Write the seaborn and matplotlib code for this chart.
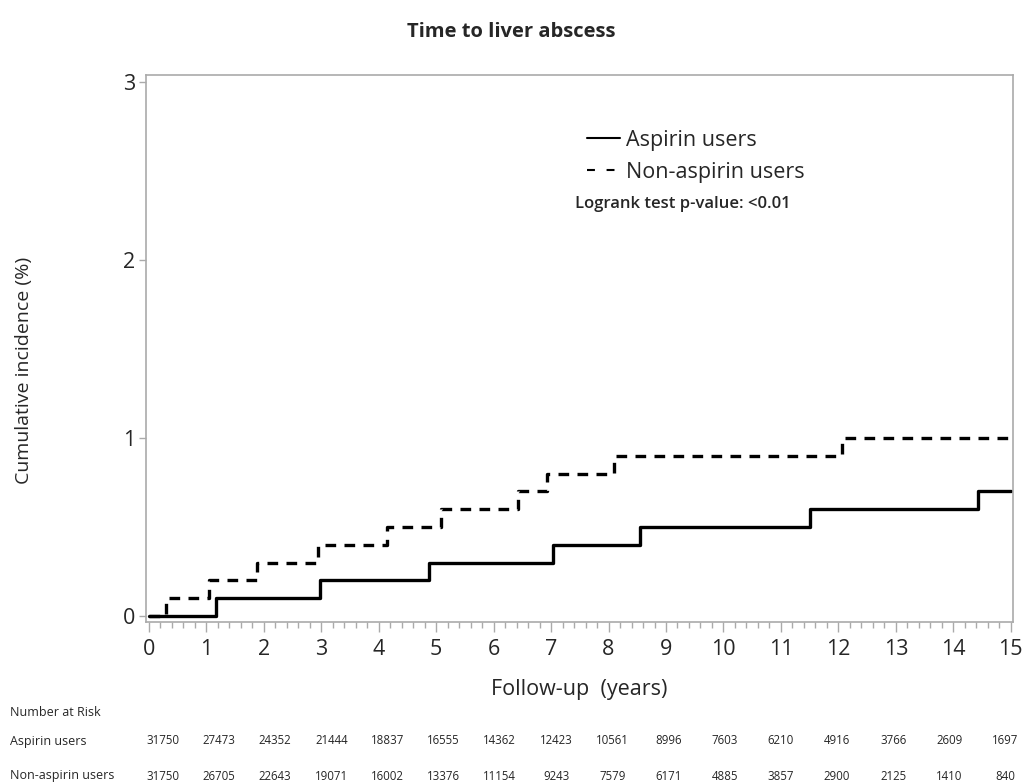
import numpy as np
import pandas as pd
import seaborn as sns
import matplotlib.pyplot as plt
from matplotlib.lines import Line2D
from matplotlib.ticker import MultipleLocator

# step data (years, cumulative incidence %)
asp_times = [0, 1.17, 2.97, 4.88, 7.03, 8.54, 11.5, 14.43, 15]
asp_cum = [0, 0.1, 0.2, 0.3, 0.4, 0.5, 0.6, 0.7, 0.7]
non_times = [0, 0.3, 1.04, 1.88, 2.94, 4.14, 5.09, 6.42, 6.93, 8.1, 12.07, 15]
non_cum = [0, 0.1, 0.2, 0.3, 0.4, 0.5, 0.6, 0.7, 0.8, 0.9, 1.0, 1.0]

groups = ['Aspirin users', 'Non-aspirin users']
risk_years = list(range(16))
risk_asp = [31750, 27473, 24352, 21444, 18837, 16555, 14362, 12423, 10561,
            8996, 7603, 6210, 4916, 3766, 2609, 1697]
risk_non = [31750, 26705, 22643, 19071, 16002, 13376, 11154, 9243, 7579,
            6171, 4885, 3857, 2900, 2125, 1410, 840]

sns.set_style('white')
plt.rcParams['font.family'] = ['Open Sans', 'DejaVu Sans']

df = pd.concat([
    pd.DataFrame({'time': asp_times, 'cum': asp_cum, 'group': groups[0]}),
    pd.DataFrame({'time': non_times, 'cum': non_cum, 'group': groups[1]}),
])

fig = plt.figure(figsize=(10.22, 7.82), dpi=100)
ax = fig.add_axes([0.1429, 0.2046, 0.9912 - 0.1429, 0.9041 - 0.2046])

dash = (3.2, 2.5)
sns.lineplot(data=df, x='time', y='cum', style='group', style_order=groups,
             dashes={groups[0]: '', groups[1]: dash}, color='black',
             linewidth=2.4, drawstyle='steps-post', estimator=None,
             legend=False, ax=ax)

ax.set_xlim(-0.05, 15.04)
ax.set_ylim(-0.034, 3.04)
ax.xaxis.set_major_locator(MultipleLocator(1))
ax.xaxis.set_minor_locator(MultipleLocator(0.2))
ax.yaxis.set_major_locator(MultipleLocator(1))
ax.tick_params(axis='x', which='major', direction='out', length=7, width=1,
               color='#aaaaaa', labelsize=15.5, pad=5, bottom=True)
ax.tick_params(axis='x', which='minor', direction='out', length=4, width=1,
               color='#aaaaaa', bottom=True)
ax.tick_params(axis='y', which='major', direction='out', length=5, width=1,
               color='#aaaaaa', labelsize=15.5, pad=3, left=True)
for s in ax.spines.values():
    s.set_color('#aaaaaa')
    s.set_linewidth(1.2)

ax.set_xlabel('Follow-up  (years)', fontsize=15.5, labelpad=14)
ax.set_ylabel('Cumulative incidence (%)', fontsize=14)
ax.yaxis.set_label_coords(-0.13, 0.46)
fig.suptitle('Time to liver abscess', fontsize=14.5, fontweight='bold',
             x=0.5, y=1 - 32 / 782, va='center')

handles = [Line2D([], [], color='black', linewidth=1.5),
           Line2D([], [], color='black', linewidth=1.5, dashes=(3.8, 5.6))]
leg = ax.legend(handles, groups, loc='upper left', bbox_to_anchor=(0.486, 0.935),
                frameon=False, fontsize=15.5, handlelength=1.53, handletextpad=0.28,
                labelspacing=0.5)
ax.text(0.495, 0.764, 'Logrank test p-value: <0.01', transform=ax.transAxes,
        fontsize=12, fontweight='semibold', va='center')

# number at risk table
fig.text(10 / 1022, 1 - 713 / 782, 'Number at Risk', fontsize=9, va='center')
for label, counts, ypx in [(groups[0], risk_asp, 741), (groups[1], risk_non, 776)]:
    fig.text(10 / 1022, 1 - ypx / 782, label, fontsize=9, va='center')
    for yr, c in zip(risk_years, counts):
        xpos = ax.transData.transform((yr * 0.978 + 0.24, 0))[0] / fig.bbox.width
        fig.text(xpos, 1 - ypx / 782, str(c), fontsize=8.3, ha='center', va='center')

fig.savefig('out.png', dpi=100)
